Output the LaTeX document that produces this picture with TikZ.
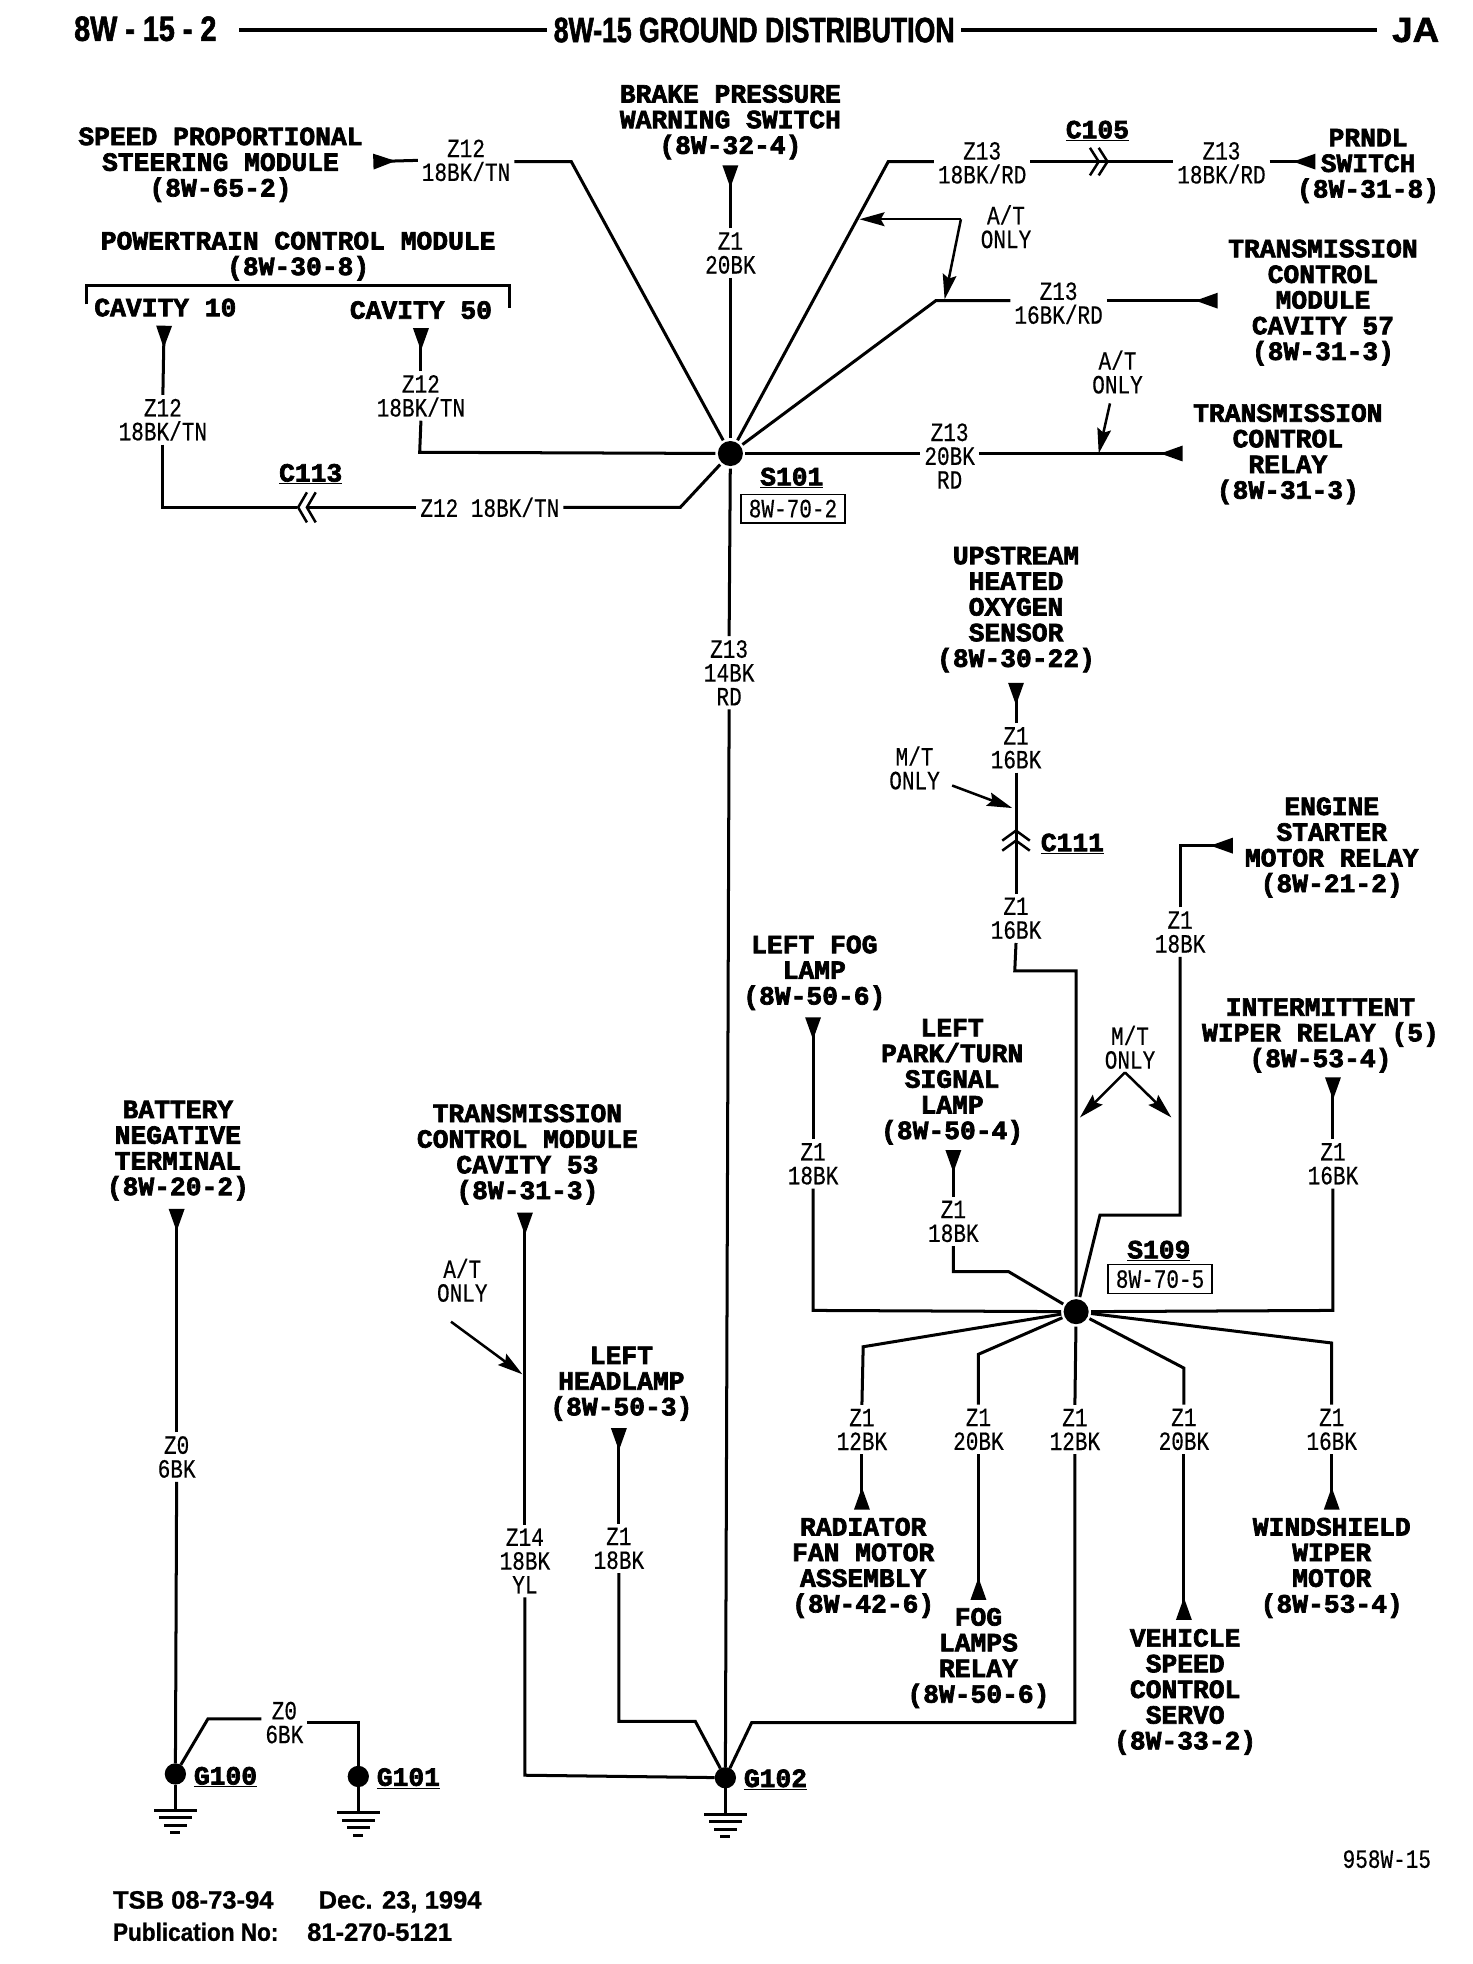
\documentclass[tikz,border=0pt]{standalone}
\usepackage{fontspec}
\usetikzlibrary{arrows.meta}
\setmainfont{Liberation Sans}
\newfontfamily\lblfont[FakeStretch=0.8,FakeBold=0.4]{Liberation Mono}
\newfontfamily\compfont[FakeBold=2.6]{Liberation Mono Bold}
\newfontfamily\titlefont[FakeStretch=0.76,FakeBold=1.6]{Liberation Sans Bold}
\newfontfamily\headlfont[FakeStretch=0.82,FakeBold=1.6]{Liberation Sans Bold}
\newfontfamily\headrfont[FakeStretch=1.05,FakeBold=1.6]{Liberation Sans Bold}
\newfontfamily\footfont[FakeStretch=0.9,FakeBold=1]{Liberation Sans Bold}
\newfontfamily\footwfont[FakeStretch=1.02,FakeBold=1]{Liberation Sans Bold}
\tikzset{
  x=1pt,y=-1pt,
  wire/.style={line width=2.4pt,line join=miter},
  wedgeend/.style={wire,-{Triangle[reversed,length=18pt,width=12pt]}},
  note/.style={line width=2pt,-{Stealth[length=20pt,width=11pt,inset=3pt]}},
  comp/.style={font=\compfont\fontsize{21}{20.5}\selectfont,align=center,inner sep=3pt,yshift=-1.5pt},
  wl/.style={font=\lblfont\fontsize{21}{19}\selectfont,align=center,inner sep=3pt},
  jdot/.style={circle,fill=black,inner sep=0pt,minimum size=20pt,outer sep=2pt},
  gdot/.style={circle,fill=black,inner sep=0pt,minimum size=17pt,outer sep=0pt},
  boxed/.style={draw,line width=1pt,font=\lblfont\fontsize{21}{19}\selectfont,minimum width=83pt,minimum height=23pt,inner sep=0pt},
  bar/.style={line width=2.4pt}
}
\newcommand{\gndsym}[1]{%
  \begin{scope}[shift={(#1)}]
    \draw[bar] (-17,0) -- (17,0); \draw[bar] (-13,6) -- (13,6);
    \draw[bar] (-9,12) -- (9,12); \draw[bar] (-4,18) -- (4,18);
  \end{scope}}
\begin{document}
\begin{tikzpicture}
\path[use as bounding box,fill=white] (0,0) rectangle (1175,1567.7);
% header
\node[font=\headlfont\fontsize{28}{28}\selectfont,inner sep=4pt] (hl) at (116,23) {8W - 15 - 2};
\node[font=\titlefont\fontsize{28}{28}\selectfont,inner sep=5pt] (ht) at (602,24) {8W-15 GROUND DISTRIBUTION};
\node[font=\headrfont\fontsize{28}{28}\selectfont,inner sep=12pt] (hr) at (1130,24) {JA};
\coordinate (hla) at (191,24);
\draw[line width=2.8pt] (hla) -- (ht.west);
\draw[line width=2.8pt] (ht.east) -- (hr.west);
% junctions
\node[jdot] (s101) at (583,362) {};
\node[jdot] (s109) at (859,1047) {};
\node[gdot] (g100) at (140,1416) {};
\node[gdot] (g101) at (286,1418) {};
\node[gdot] (g102) at (579,1419) {};
% components
\node[comp] (brake) at (583,96) {BRAKE PRESSURE\\WARNING SWITCH\\(8W-32-4)};
\node[comp] (speed) at (176,130) {SPEED PROPORTIONAL\\STEERING MODULE\\(8W-65-2)};
\node[comp] (pcm) at (238,203) {POWERTRAIN CONTROL MODULE\\(8W-30-8)};
\node[comp] (cav10) at (132,244) {CAVITY 10};
\node[comp] (cav50) at (336,246) {CAVITY 50};
\node[comp] (prndl) at (1092,131) {PRNDL\\SWITCH\\(8W-31-8)};
\node[comp] (tcm57) at (1056,240) {TRANSMISSION\\CONTROL\\MODULE\\CAVITY 57\\(8W-31-3)};
\node[comp] (tcr) at (1028,361) {TRANSMISSION\\CONTROL\\RELAY\\(8W-31-3)};
\node[comp] (up) at (811,485) {UPSTREAM\\HEATED\\OXYGEN\\SENSOR\\(8W-30-22)};
\node[comp] (starter) at (1063,675) {ENGINE\\STARTER\\MOTOR RELAY\\(8W-21-2)};
\node[comp] (fog) at (650,775) {LEFT FOG\\LAMP\\(8W-50-6)};
\node[comp] (park) at (760,862) {LEFT\\PARK/TURN\\SIGNAL\\LAMP\\(8W-50-4)};
\node[comp] (wiper) at (1054,825) {INTERMITTENT\\WIPER RELAY (5)\\(8W-53-4)};
\node[comp] (rad) at (689,1250) {RADIATOR\\FAN MOTOR\\ASSEMBLY\\(8W-42-6)};
\node[comp] (fogr) at (781,1322) {FOG\\LAMPS\\RELAY\\(8W-50-6)};
\node[comp] (vss) at (946,1349) {VEHICLE\\SPEED\\CONTROL\\SERVO\\(8W-33-2)};
\node[comp] (wsw) at (1063,1250) {WINDSHIELD\\WIPER\\MOTOR\\(8W-53-4)};
\node[comp] (batt) at (142,917) {BATTERY\\NEGATIVE\\TERMINAL\\(8W-20-2)};
\node[comp] (tcm53) at (421,920) {TRANSMISSION\\CONTROL MODULE\\CAVITY 53\\(8W-31-3)};
\node[comp] (head) at (496,1103) {LEFT\\HEADLAMP\\(8W-50-3)};
% connector / splice names
\node[comp] (c113t) at (248,377) {\underline{C113}};
\node[comp] (c105t) at (876,103) {\underline{C105}};
\node[comp] (c111t) at (856,672) {\underline{C111}};
\node[comp] (s101t) at (632,380) {\underline{S101}};
\node[comp] (s109t) at (925,997) {\underline{S109}};
\node[comp] (g100t) at (180,1417) {\underline{G100}};
\node[comp] (g101t) at (326,1418) {\underline{G101}};
\node[comp] (g102t) at (619,1419) {\underline{G102}};
\node[boxed] (s101b) at (633,406) {8W-70-2};
\node[boxed] (s109b) at (926,1021) {8W-70-5};
% wire labels
\node[wl] (a1) at (372,128) {Z12\\18BK/TN};
\node[wl] (a2) at (583,202) {Z1\\20BK};
\node[wl] (a3) at (130,335) {Z12\\18BK/TN};
\node[wl] (a4) at (336,316) {Z12\\18BK/TN};
\node[wl] (a5) at (391,405) {Z12 18BK/TN};
\node[wl] (a6) at (784,130) {Z13\\18BK/RD};
\node[wl] (a7) at (975,130) {Z13\\18BK/RD};
\node[wl] (a8) at (845,242) {Z13\\16BK/RD};
\node[wl] (a9) at (758,364) {Z13\\20BK\\RD};
\node[wl] (a10) at (582,537) {Z13\\14BK\\RD};
\node[wl] (a11) at (811,597) {Z1\\16BK};
\node[wl] (a12) at (811,733) {Z1\\16BK};
\node[wl] (a13) at (942,744) {Z1\\18BK};
\node[wl] (a14) at (649,929) {Z1\\18BK};
\node[wl] (a15) at (761,975) {Z1\\18BK};
\node[wl] (a16) at (1064,929) {Z1\\16BK};
\node[wl] (a17) at (688,1141) {Z1\\12BK};
\node[wl] (a18) at (781,1141) {Z1\\20BK};
\node[wl] (a19) at (858,1141) {Z1\\12BK};
\node[wl] (a20) at (945,1141) {Z1\\20BK};
\node[wl] (a21) at (1063,1141) {Z1\\16BK};
\node[wl] (a22) at (141,1163) {Z0\\6BK};
\node[wl] (a23) at (227,1375) {Z0\\6BK};
\node[wl] (a24) at (419,1246) {Z14\\18BK\\YL};
\node[wl] (a25) at (494,1236) {Z1\\18BK};
% notes
\node[wl] (n1) at (803,181) {A/T\\ONLY};
\node[wl] (n2) at (892,297) {A/T\\ONLY};
\node[wl] (n3) at (730,613) {M/T\\ONLY};
\node[wl] (n4) at (902,836) {M/T\\ONLY};
\node[wl] (n5) at (369,1022) {A/T\\ONLY};
\node[wl] (code) at (1107,1484) {958W-15};
% footer
\node[font=\footwfont\fontsize{20}{25}\selectfont,anchor=west,inner sep=0pt] (f1) at (90,1518) {TSB 08-73-94\hspace{36pt}Dec. 23, 1994};
\node[font=\footfont\fontsize{20}{25}\selectfont,anchor=west,inner sep=0pt] (f2) at (90,1542) {Publication No:\hspace{23pt}{\footwfont 81-270-5121}};
% coordinates
\coordinate (t1) at (298,129);   \coordinate (k1) at (456,129);
\coordinate (t2) at (583,132);
\coordinate (t3) at (131,260);   \coordinate (k3) at (130,405);  \coordinate (c113) at (245,405);  \coordinate (k3b) at (543,405);
\coordinate (t4) at (336,262);   \coordinate (k4) at (335,361);
\coordinate (k6) at (709,129);   \coordinate (c105) at (876,129); \coordinate (t7) at (1050,129);
\coordinate (k8) at (747,240);   \coordinate (t8) at (972,240);
\coordinate (t9) at (944,362);
\coordinate (t11) at (811,545);  \coordinate (c111) at (811,663);
\coordinate (k12) at (810,775);  \coordinate (k12b) at (859,775);
\coordinate (t13) at (984,675);  \coordinate (k13) at (942,675); \coordinate (k13b) at (942,970); \coordinate (k13c) at (878,970);
\coordinate (t14) at (649,812);  \coordinate (k14) at (649,1046);
\coordinate (t15) at (761,918);  \coordinate (k15) at (761,1015); \coordinate (k15b) at (805,1015);
\coordinate (t16) at (1064,860); \coordinate (k16) at (1064,1046);
\coordinate (k17) at (689,1075); \coordinate (t17) at (688,1205);
\coordinate (k18) at (781,1081); \coordinate (t18) at (781,1277);
\coordinate (k19) at (858,1375); \coordinate (k19b) at (600,1375);
\coordinate (k20) at (945,1092); \coordinate (t20) at (945,1293);
\coordinate (k21) at (1063,1072);\coordinate (t21) at (1063,1205);
\coordinate (t22) at (141,965);
\coordinate (k23) at (166,1372); \coordinate (k23b) at (286,1375);
\coordinate (t24) at (419,968);  \coordinate (k24) at (419,1417);
\coordinate (t25) at (494,1140); \coordinate (k25) at (494,1374); \coordinate (k25b) at (555,1374);
\coordinate (e1a) at (767,175);  \coordinate (e1b) at (686,175); \coordinate (e1c) at (754,239);
\coordinate (e2a) at (886,322);  \coordinate (e2b) at (877,362);
\coordinate (e3a) at (760,627);  \coordinate (e3b) at (808,645);
\coordinate (e4a) at (898,856);  \coordinate (e4b) at (862,892); \coordinate (e4c) at (935,892);
\coordinate (e5a) at (360,1055); \coordinate (e5b) at (417,1097);
\coordinate (b1) at (69,243); \coordinate (b2) at (69,228); \coordinate (b3) at (407,228); \coordinate (b4) at (407,246);
\coordinate (gg1) at (140,1445); \coordinate (gg2) at (286,1447); \coordinate (gg3) at (579,1448);
% wires
\draw[wire] (b1) -- (b2) -- (b3) -- (b4);
\draw[wedgeend] (a1.west) -- (t1);
\draw[wire] (a1.east |- k1) -- (k1) -- (s101);
\draw[wedgeend] (a2.north) -- (t2);
\draw[wire] (a2.south) -- (s101);
\draw[wedgeend] (a3.north) -- (t3);
\draw[wire] (a3.south) -- (k3) -- (a5.west);
\draw[wire] (a5.east) -- (k3b) -- (s101);
\draw[wedgeend] (a4.north) -- (t4);
\draw[wire] (a4.south) -- (k4) -- (s101);
\draw[wire] (s101) -- (k6) -- (a6.west |- k6);
\draw[wire] (a6.east |- k6) -- (a7.west |- k6);
\draw[wedgeend] (a7.east |- k6) -- (t7);
\draw[wire] (s101) -- (k8) -- (a8.west |- k8);
\draw[wedgeend] (a8.east |- k8) -- (t8);
\draw[wire] (s101) -- (a9.west |- s101);
\draw[wedgeend] (a9.east |- s101) -- (t9);
\draw[wire] (s101) -- (a10.north);
\draw[wire] (a10.south) -- (g102);
\draw[wedgeend] (a11.north) -- (t11);
\draw[wire] (a11.south) -- (a12.north);
\draw[wire] (a12.south) -- (k12) -- (k12b) -- (s109);
\draw[wedgeend] (a13.north) -- (k13) -- (t13);
\draw[wire] (a13.south) -- (k13b) -- (k13c) -- (s109);
\draw[wedgeend] (a14.north) -- (t14);
\draw[wire] (a14.south) -- (k14) -- (s109);
\draw[wedgeend] (a15.north) -- (t15);
\draw[wire] (a15.south) -- (k15) -- (k15b) -- (s109);
\draw[wedgeend] (a16.north) -- (t16);
\draw[wire] (a16.south) -- (k16) -- (s109);
\draw[wire] (s109) -- (k17) -- (a17.north);
\draw[wedgeend] (a17.south) -- (t17);
\draw[wire] (s109) -- (k18) -- (a18.north);
\draw[wedgeend] (a18.south) -- (t18);
\draw[wire] (s109) -- (a19.north);
\draw[wire] (a19.south) -- (k19) -- (k19b) -- (g102);
\draw[wire] (s109) -- (k20) -- (a20.north);
\draw[wedgeend] (a20.south) -- (t20);
\draw[wire] (s109) -- (k21) -- (a21.north);
\draw[wedgeend] (a21.south) -- (t21);
\draw[wedgeend] (a22.north) -- (t22);
\draw[wire] (a22.south) -- (g100);
\draw[wire] (g100) -- (k23) -- (a23.west |- k23);
\draw[wire] (a23.east |- k23b) -- (k23b) -- (g101);
\draw[wedgeend] (a24.north) -- (t24);
\draw[wire] (a24.south) -- (k24) -- (g102);
\draw[wedgeend] (a25.north) -- (t25);
\draw[wire] (a25.south) -- (k25) -- (k25b) -- (g102);
% notes' arrows
\draw[note] (e1a) -- (e1b);
\draw[note] (e1a) -- (e1c);
\draw[note] (e2a) -- (e2b);
\draw[note] (e3a) -- (e3b);
\draw[note] (e4a) -- (e4b);
\draw[note] (e4a) -- (e4c);
\draw[note] (e5a) -- (e5b);
% connector marks
\begin{scope}[shift={(c113)},line width=2pt]
  \draw[fill=white,draw=none] (-8,-12) rectangle (8,12);
  \draw (0,-12) -- (-7,0) -- (0,12); \draw (7,-12) -- (0,0) -- (7,12); \draw[wire] (0,0) -- (8,0);
\end{scope}
\begin{scope}[shift={(c105)},line width=2pt]
  \draw (-6,-11) -- (1,0) -- (-6,11); \draw (1,-11) -- (8,0) -- (1,11);
\end{scope}
\begin{scope}[shift={(c111)},line width=2pt]
  \draw (-11,8) -- (0,0) -- (11,8); \draw (-11,16) -- (0,8) -- (11,16);
\end{scope}
% grounds
\draw[wire] (g100) -- (gg1); \gndsym{gg1}
\draw[wire] (g101) -- (gg2); \gndsym{gg2}
\draw[wire] (g102) -- (gg3); \gndsym{gg3}
\end{tikzpicture}
\end{document}
